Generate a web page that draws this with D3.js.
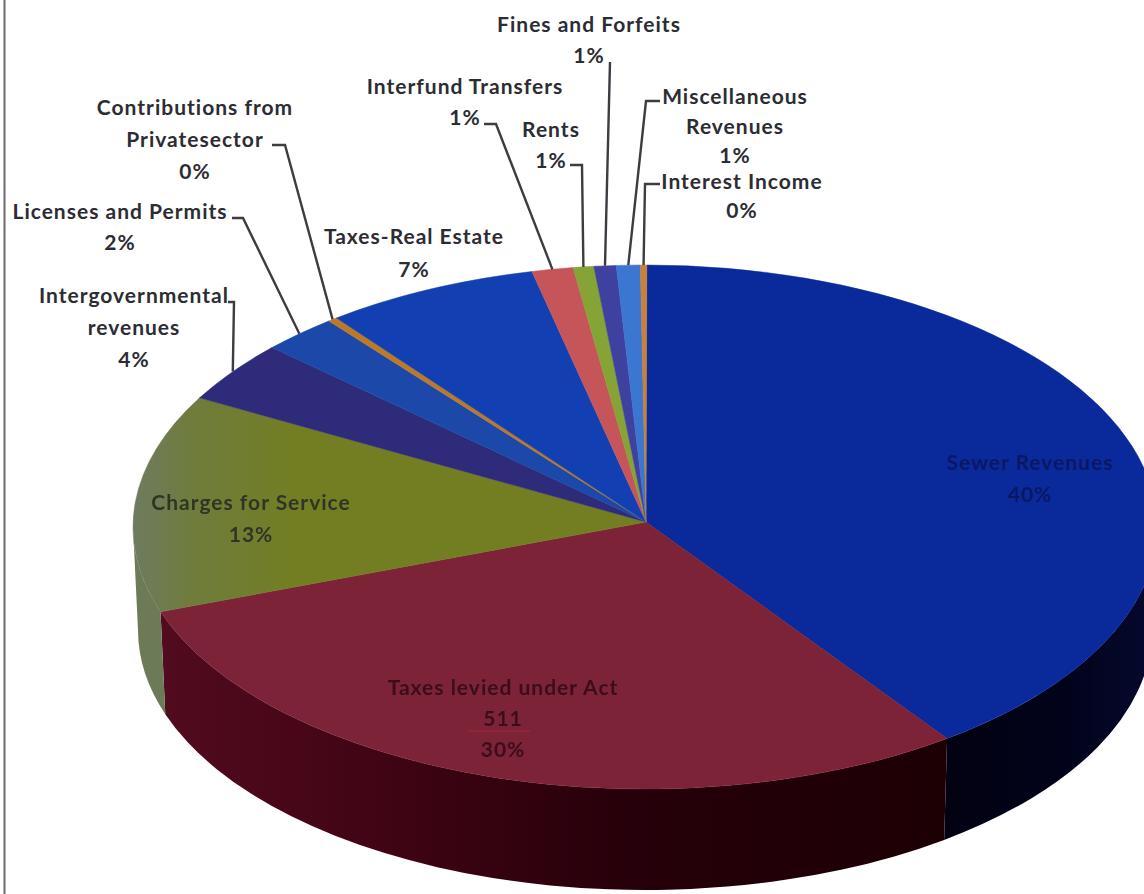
<!DOCTYPE html>
<html>
<head>
<meta charset="utf-8">
<title>Revenue sources</title>
<script src="https://cdnjs.cloudflare.com/ajax/libs/d3/7.8.5/d3.min.js"></script>
<style>
  html, body { margin: 0; padding: 0; background: #fff; }
  svg { display: block; }
  text { font-family: Lato, "Open Sans", sans-serif; font-weight: 700; text-anchor: middle; letter-spacing: 1px; }
</style>
</head>
<body>
<svg id="chart" width="1144" height="894"></svg>
<script>
// Revenue categories, clockwise from the top of the pie.
const categories = [
  "Sewer Revenues", "Taxes levied under Act", "Charges for Service",
  "Intergovernmental revenues", "Licenses and Permits",
  "Contributions from Private sector", "Taxes-Real Estate",
  "Interfund Transfers", "Rents", "Fines and Forfeits",
  "Miscellaneous Revenues", "Interest Income"
];
// Share of total revenue, in percent.
const shares = [39.9, 29.8, 13.45, 3.8, 2.4, 0.3, 6.75, 1.3, 0.65, 0.7, 0.75, 0.2];
const topColors = [
  "#0a2a9b", "#7d2338", "url(#olive-top)", "#2e2b7a", "#1c49a9", "#bb7a28",
  "#1240b2", "#c6555a", "#86a336", "#3f41a0", "#3b77d0", "#c9803a"
];
const wallColors = [
  "url(#sewer-wall)", "url(#taxes-wall)", "#6d7a58", "#1c1a4a", "#10296a", "#6e4818",
  "#0a2570", "#7a3034", "#506220", "#26265f", "#234880", "#7a4d22"
];

// How each category's label is broken into lines, with the value line marked by null.
const labelLines = [
  ["Sewer  Revenues", null],
  ["Taxes levied under Act", "511", null],
  ["Charges for Service", null],
  ["Intergovernmental", "revenues", null],
  ["Licenses and Permits", null],
  ["Contributions from", "Privatesector", null],
  ["Taxes-Real Estate", null],
  ["Interfund Transfers", null],
  ["Rents", null],
  ["Fines and Forfeits", null],
  ["Miscellaneous", "Revenues", null],
  ["Interest Income", null]
];

// Label placement: centre x, centre y of the first line, line pitch, and leader elbow points.
const labelPlaces = [
  { x: 1030, y: 463, pitch: 32, fill: "#0b1764", inside: true },
  { x: 503,  y: 688, pitch: 31, fill: "#3a0e1a", inside: true },
  { x: 251,  y: 503, pitch: 32, fill: "#2f3626", inside: true },
  { x: 134,  y: 296, pitch: 32, leader: [[228, 302], [234, 302]] },
  { x: 120,  y: 212, pitch: 31, leader: [[232, 218], [243, 218]] },
  { x: 195,  y: 108, pitch: 32, leader: [[272, 145], [285, 145]] },
  { x: 414,  y: 237, pitch: 33 },
  { x: 465,  y: 87,  pitch: 31, leader: [[484, 124], [496, 124]] },
  { x: 551,  y: 130, pitch: 31, leader: [[570, 165], [582, 165]] },
  { x: 589,  y: 25,  pitch: 31, leader: [[610, 62]] },
  { x: 735,  y: 97,  pitch: 29.5, leader: [[660, 101], [646, 101]] },
  { x: 742,  y: 182, pitch: 29, leader: [[660, 184], [645, 184]] }
];

const svg = d3.select("#chart");

// Ellipses of the pie's top face and foot, and the point where the slices meet.
const top_ = { cx: 645, cy: 527, rx: 512, ry: 262 };
const foot = { cx: 645, cy: 630, rx: 507, ry: 260 };
const apex = { x: 646, y: 522 };
const deg = Math.PI / 180;

const rim = (a, e = top_) => ({
  x: e.cx + e.rx * Math.sin(a),
  y: e.cy - e.ry * Math.cos(a)
});
const sweep = (from, to, e, clockwise) => {
  const p = rim(to, e);
  const large = Math.abs(to - from) > Math.PI ? 1 : 0;
  return `A${e.rx},${e.ry} 0 ${large} ${clockwise ? 1 : 0} ${p.x},${p.y}`;
};

const slices = d3.pie()
  .sort(null)
  .value(d => d)
  .startAngle(0.2 * deg)
  .endAngle(360.2 * deg)(shares);

// Gradients for the shaded faces, and the softening on labels printed over the pie.
const defs = svg.append("defs");
const gradient = (id, x1, x2, stops) => {
  const g = defs.append("linearGradient")
    .attr("id", id).attr("gradientUnits", "userSpaceOnUse")
    .attr("x1", x1).attr("x2", x2).attr("y1", 0).attr("y2", 0);
  stops.forEach(([o, c]) => g.append("stop").attr("offset", o).attr("stop-color", c));
};
gradient("olive-top", 133, 300, [[0, "#6e7b60"], [0.35, "#6f7c3c"], [1, "#737e22"]]);
gradient("taxes-wall", 160, 945, [[0, "#520b1f"], [0.3, "#3f0414"], [0.6, "#26000a"], [1, "#1c0004"]]);
gradient("sewer-wall", 945, 1144, [[0, "#020212"], [0.6, "#02031a"], [1, "#05082c"]]);
defs.append("filter").attr("id", "soft")
  .append("feGaussianBlur").attr("stdDeviation", 0.7);

// Page frame on the left.
svg.append("line")
  .attr("x1", 4.5).attr("x2", 4.5).attr("y1", 0).attr("y2", 894)
  .attr("stroke", "#6c6c72").attr("stroke-width", 2);

// Outer walls: only the part of each slice on the near half of the rim shows.
const nearStart = 90 * deg, nearEnd = 270 * deg;
svg.append("g").selectAll("path")
  .data(slices.filter(s => s.endAngle > nearStart && s.startAngle < nearEnd))
  .join("path")
  .attr("fill", d => wallColors[d.index])
  .attr("d", d => {
    const a = Math.max(d.startAngle, nearStart), b = Math.min(d.endAngle, nearEnd);
    const p = rim(a);
    const q = rim(b, foot);
    return `M${p.x},${p.y}${sweep(a, b, top_, true)}L${q.x},${q.y}${sweep(b, a, foot, false)}Z`;
  });

// Top faces.
svg.append("g").selectAll("path")
  .data(slices)
  .join("path")
  .attr("fill", d => topColors[d.index])
  .attr("stroke", d => topColors[d.index])
  .attr("stroke-width", 0.5)
  .attr("d", d => {
    const p = rim(d.startAngle);
    return `M${apex.x},${apex.y}L${p.x},${p.y}${sweep(d.startAngle, d.endAngle, top_, true)}Z`;
  });

// Leader lines from the outside labels to the middle of their slice's rim.
const line = d3.line();
svg.append("g").selectAll("path")
  .data(slices.filter(s => labelPlaces[s.index].leader))
  .join("path")
  .attr("fill", "none")
  .attr("stroke", "#3c3c42")
  .attr("stroke-width", 2.4)
  .attr("d", d => {
    const m = rim((d.startAngle + d.endAngle) / 2);
    return line([...labelPlaces[d.index].leader, [m.x, m.y]]);
  });

// Category labels; the value line is taken from the share itself.
const percent = v => `${Math.round(v)}%`;
const labels = svg.append("g").selectAll("text")
  .data(slices)
  .join("text")
  .attr("font-size", 21)
  .attr("fill", d => labelPlaces[d.index].fill || "#2c2c33")
  .attr("filter", d => labelPlaces[d.index].inside ? "url(#soft)" : null);
labels.each(function (d) {
  const place = labelPlaces[d.index];
  d3.select(this).selectAll("tspan")
    .data(labelLines[d.index])
    .join("tspan")
    .attr("x", place.x)
    .attr("y", (t, i) => place.y + i * place.pitch)
    .attr("dy", "0.35em")
    .text(t => t === null ? percent(d.value) : t);
});

// Rule under the figure in the largest tax label.
svg.append("line")
  .attr("x1", 468).attr("x2", 530).attr("y1", 731).attr("y2", 731)
  .attr("stroke", "#a8243c").attr("stroke-width", 1);
</script>
</body>
</html>
